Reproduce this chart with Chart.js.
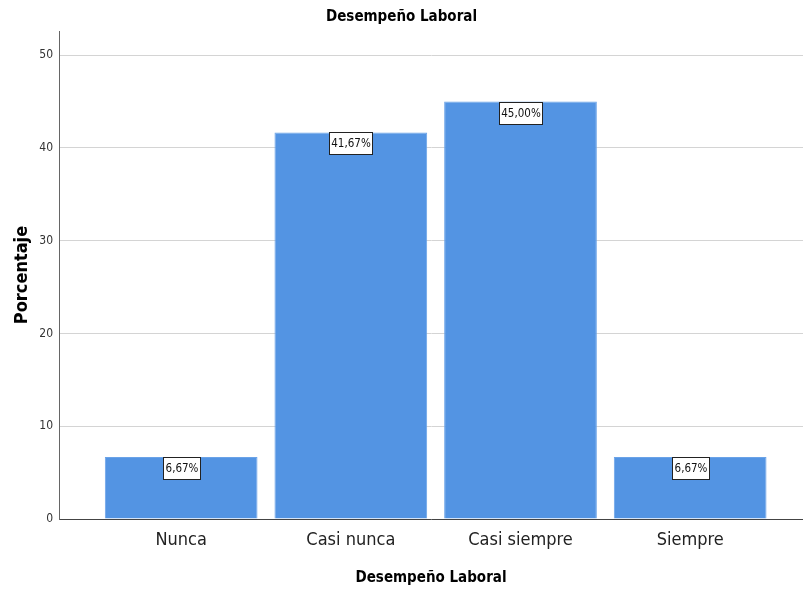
<!DOCTYPE html>
<html>
<head>
<meta charset="utf-8">
<script src="https://cdn.jsdelivr.net/npm/chart.js@4/dist/chart.umd.min.js"></script>
<style>
  html, body { margin: 0; padding: 0; background: #fff; }
  #wrap { width: 803px; height: 592px; }
</style>
</head>
<body>
<div id="wrap"><canvas id="c" width="803" height="592"></canvas></div>
<script>
// Frequency table for "Desempeño Laboral"
const categories = ['Nunca', 'Casi nunca', 'Casi siempre', 'Siempre'];
const percentages = [6.67, 41.67, 45.00, 6.67];
const yTicks = [0, 10, 20, 30, 40, 50];

const NARROW = '"DejaVu Sans Condensed", "Liberation Sans Narrow", "Liberation Sans", Arial, sans-serif';

const fmt = v => v.toFixed(2).replace('.', ',') + '%';

// Boxed value labels hanging from the top of each bar
const valueBoxes = {
  id: 'valueBoxes',
  afterDatasetsDraw(chart) {
    const ctx = chart.ctx;
    const meta = chart.getDatasetMeta(0);
    ctx.save();
    ctx.font = '11.5px ' + NARROW;
    ctx.textAlign = 'center';
    ctx.textBaseline = 'middle';
    meta.data.forEach((bar, i) => {
      const txt = fmt(percentages[i]);
      const w = Math.round(ctx.measureText(txt).width + 4);
      const h = 22;
      const x = Math.round(bar.x - w / 2) + 0.5;
      const y = Math.round(bar.y) + 0.5;
      ctx.fillStyle = '#ffffff';
      ctx.fillRect(x, y, w, h);
      ctx.strokeStyle = '#222222';
      ctx.lineWidth = 1;
      ctx.strokeRect(x, y, w, h);
      ctx.fillStyle = '#111111';
      ctx.fillText(txt, x + w / 2, y + h / 2 + 0.5);
    });
    ctx.restore();
  }
};

new Chart(document.getElementById('c'), {
  type: 'bar',
  data: {
    datasets: [{
      data: percentages.map((v, i) => ({ x: i, y: v })),
      backgroundColor: '#5394e3',
      borderColor: '#6aa3e8',
      borderWidth: 1,
      barPercentage: 0.9,
      categoryPercentage: 1.0
    }]
  },
  options: {
    responsive: false,
    animation: false,
    layout: { padding: 0 },
    plugins: {
      legend: { display: false },
      tooltip: { enabled: false },
      title: {
        display: true,
        text: 'Desempeño Laboral',
        color: '#000',
        font: { family: NARROW, size: 15, weight: 'bold' },
        padding: { top: 8, bottom: 5 }
      }
    },
    scales: {
      x: {
        type: 'linear',
        offset: false,
        min: -0.72,
        max: 3.665,
        afterBuildTicks(scale) {
          scale.ticks = categories.map((_, i) => ({ value: i }));
        },
        afterFit(scale) { scale.height = 73; },
        ticks: {
          autoSkip: false,
          maxRotation: 0,
          padding: 11,
          color: '#222',
          font: { family: NARROW, size: 18 },
          callback: (v) => categories[v]
        },
        grid: { display: false, drawTicks: false, offset: false },
        border: { display: true, color: '#444', width: 1 },
        title: {
          display: true,
          text: 'Desempeño Laboral',
          color: '#000',
          font: { family: NARROW, size: 15, weight: 'bold' },
          padding: { top: 4, bottom: 5 }
        }
      },
      y: {
        min: 0,
        max: 52.6,
        afterBuildTicks(scale) {
          scale.ticks = yTicks.map(v => ({ value: v }));
        },
        afterFit(scale) { scale.width = 59; },
        ticks: {
          padding: 6,
          color: '#333',
          font: { family: NARROW, size: 12 }
        },
        grid: { color: '#d4d4d4', lineWidth: 1, drawTicks: false },
        border: { display: true, color: '#666', width: 1 },
        title: {
          display: true,
          text: 'Porcentaje',
          color: '#000',
          font: { family: NARROW, size: 18, weight: 'bold' },
          padding: { top: 12, bottom: 4 }
        }
      }
    }
  },
  plugins: [valueBoxes]
});
</script>
</body>
</html>
